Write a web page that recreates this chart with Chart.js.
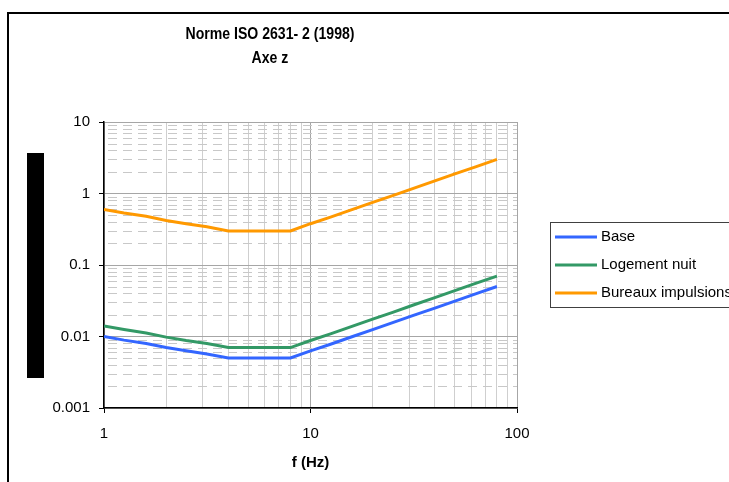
<!DOCTYPE html>
<html lang="fr">
<head>
    <meta charset="UTF-8">
    <title>Norme ISO 2631-2 (1998) - Axe z</title>
    <script src="https://cdn.jsdelivr.net/npm/chart.js"></script>
    <style>
        html, body { margin: 0; padding: 0; background: #fff; }
        .chart-container { width: 729px; height: 482px; position: relative; }
    </style>
</head>
<body>
    <div class="chart-container">
        <canvas id="isoChart"></canvas>
    </div>

    <script>
        // Fréquences (Hz), tiers d'octave
        const freqs = [1, 1.25, 1.6, 2, 2.5, 3.15, 4, 5, 6.3, 8, 10, 12.5, 16, 20, 25, 31.5, 40, 50, 63, 80];

        // Accélérations (m/s²)
        const base = [0.01, 0.0089, 0.008, 0.007, 0.0063, 0.0057, 0.005, 0.005, 0.005, 0.005,
                      0.0063, 0.0078, 0.01, 0.0125, 0.0156, 0.0197, 0.025, 0.0313, 0.0394, 0.05];
        const logementNuit = [0.014, 0.0125, 0.0112, 0.0098, 0.0088, 0.008, 0.007, 0.007, 0.007, 0.007,
                              0.0088, 0.0109, 0.014, 0.0175, 0.0218, 0.0276, 0.035, 0.0438, 0.0552, 0.07];
        const bureauxImpulsions = [0.6, 0.534, 0.48, 0.42, 0.378, 0.342, 0.3, 0.3, 0.3, 0.3,
                                   0.378, 0.468, 0.6, 0.75, 0.936, 1.18, 1.5, 1.88, 2.36, 3.0];

        const seriesNames = ['Base', 'Logement nuit', 'Bureaux impulsions'];
        const seriesColors = ['#3366ff', '#339966', '#ff9900'];

        // graduations (majeures = puissances de 10)
        const xTicks = [1, 2, 3, 4, 5, 6, 7, 8, 9, 10, 20, 30, 40, 50, 60, 70, 80, 90, 100];
        const yTicks = [0.001, 0.002, 0.003, 0.004, 0.005, 0.006, 0.007, 0.008, 0.009,
                        0.01, 0.02, 0.03, 0.04, 0.05, 0.06, 0.07, 0.08, 0.09,
                        0.1, 0.2, 0.3, 0.4, 0.5, 0.6, 0.7, 0.8, 0.9,
                        1, 2, 3, 4, 5, 6, 7, 8, 9, 10];
        const xLabels = ['1', '10', '100'];
        const yLabels = ['0.001', '0.01', '0.1', '1', '10'];

        function isMajor(v) {
            const l = Math.log10(v);
            return Math.abs(l - Math.round(l)) < 1e-9;
        }
        function majorLabel(v, labels) {
            if (!isMajor(v)) return '';
            const s = labels.find(t => Math.abs(parseFloat(t) - v) < v * 1e-6);
            return s || '';
        }

        const FONT = '"Liberation Sans", Arial, sans-serif';

        const decorPlugin = {
            id: 'decor',
            beforeDraw(chart) {
                const ctx = chart.ctx;
                ctx.save();
                ctx.fillStyle = '#fff';
                ctx.fillRect(0, 0, chart.width, chart.height);
                // cadre extérieur
                ctx.strokeStyle = '#000';
                ctx.lineWidth = 2;
                ctx.strokeRect(8, 13, 800, 600);
                // bloc noir à gauche
                ctx.fillStyle = '#000';
                ctx.fillRect(27, 153, 17, 225);
                // titre
                ctx.fillStyle = '#000';
                ctx.textAlign = 'center';
                ctx.textBaseline = 'middle';
                ctx.font = 'bold 17px ' + FONT;
                const t1 = 'Norme ISO 2631- 2 (1998)';
                const w1 = ctx.measureText(t1).width;
                const sx = 169 / w1;
                ctx.translate(270, 0);
                ctx.scale(sx, 1);
                ctx.fillText(t1, 0, 34);
                ctx.fillText('Axe z', 0, 58);
                ctx.restore();
            },
            beforeDatasetsDraw(chart) {
                // lignes horizontales secondaires en pointillés
                const ctx = chart.ctx;
                const y = chart.scales.y;
                const area = chart.chartArea;
                ctx.save();
                ctx.strokeStyle = '#c8c8c8';
                ctx.lineWidth = 1;
                ctx.setLineDash([9, 6]);
                y.ticks.forEach(t => {
                    if (isMajor(t.value)) return;
                    const py = Math.round(y.getPixelForValue(t.value)) + 0.5;
                    ctx.beginPath();
                    ctx.moveTo(area.left + 4, py);
                    ctx.lineTo(area.right, py);
                    ctx.stroke();
                });
                ctx.restore();
            },
            afterDraw(chart) {
                // légende
                const ctx = chart.ctx;
                ctx.save();
                ctx.strokeStyle = '#404040';
                ctx.lineWidth = 1;
                ctx.strokeRect(550.5, 222.5, 220, 85);
                ctx.font = '15px ' + FONT;
                ctx.textBaseline = 'middle';
                ctx.textAlign = 'left';
                const rows = [237, 265, 293];
                chart.data.datasets.forEach((ds, i) => {
                    ctx.strokeStyle = ds.borderColor;
                    ctx.lineWidth = 3;
                    ctx.beginPath();
                    ctx.moveTo(555, rows[i]);
                    ctx.lineTo(597, rows[i]);
                    ctx.stroke();
                    ctx.fillStyle = '#000';
                    ctx.fillText(ds.label, 601, rows[i]);
                });
                ctx.restore();
            }
        };

        const allSeries = [base, logementNuit, bureauxImpulsions];

        new Chart(document.getElementById('isoChart'), {
            type: 'line',
            data: {
                datasets: allSeries.map((vals, i) => ({
                    label: seriesNames[i],
                    data: freqs.map((f, k) => ({ x: f, y: vals[k] })),
                    borderColor: seriesColors[i],
                    backgroundColor: seriesColors[i],
                    borderWidth: 3,
                    pointRadius: 0,
                    tension: 0,
                    fill: false
                }))
            },
            options: {
                responsive: true,
                maintainAspectRatio: false,
                animation: false,
                layout: {
                    padding: { top: 122, right: 212, left: 0, bottom: 0 }
                },
                plugins: {
                    legend: { display: false },
                    title: { display: false },
                    tooltip: { enabled: false }
                },
                scales: {
                    x: {
                        type: 'logarithmic',
                        min: 1,
                        max: 100,
                        afterBuildTicks: s => { s.ticks = xTicks.map(v => ({ value: v })); },
                        afterFit: s => { s.height = 74; },
                        ticks: {
                            autoSkip: false,
                            maxRotation: 0,
                            padding: 12,
                            color: '#000',
                            font: { family: FONT, size: 15 },
                            callback: v => majorLabel(v, xLabels)
                        },
                        grid: {
                            color: c => (c.tick && isMajor(c.tick.value)) ? '#a6a6a6' : '#cfcfcf',
                            tickColor: c => (c.tick && isMajor(c.tick.value)) ? '#000' : 'rgba(0,0,0,0)',
                            tickLength: 5
                        },
                        border: { color: '#000', width: 1.5 },
                        title: {
                            display: true,
                            text: 'f (Hz)',
                            color: '#000',
                            font: { family: FONT, size: 15, weight: 'bold' },
                            padding: { top: 0, bottom: 10 }
                        }
                    },
                    y: {
                        type: 'logarithmic',
                        min: 0.001,
                        max: 10,
                        afterBuildTicks: s => { s.ticks = yTicks.map(v => ({ value: v })); },
                        afterFit: s => { s.width = 104; },
                        ticks: {
                            autoSkip: false,
                            padding: 9,
                            color: '#000',
                            font: { family: FONT, size: 15 },
                            callback: v => majorLabel(v, yLabels)
                        },
                        grid: {
                            color: c => (c.tick && isMajor(c.tick.value)) ? '#a6a6a6' : 'rgba(0,0,0,0)',
                            tickColor: c => (c.tick && isMajor(c.tick.value)) ? '#000' : 'rgba(0,0,0,0)',
                            tickLength: 5
                        },
                        border: { color: '#000', width: 1.5 }
                    }
                }
            },
            plugins: [decorPlugin]
        });
    </script>
</body>
</html>
